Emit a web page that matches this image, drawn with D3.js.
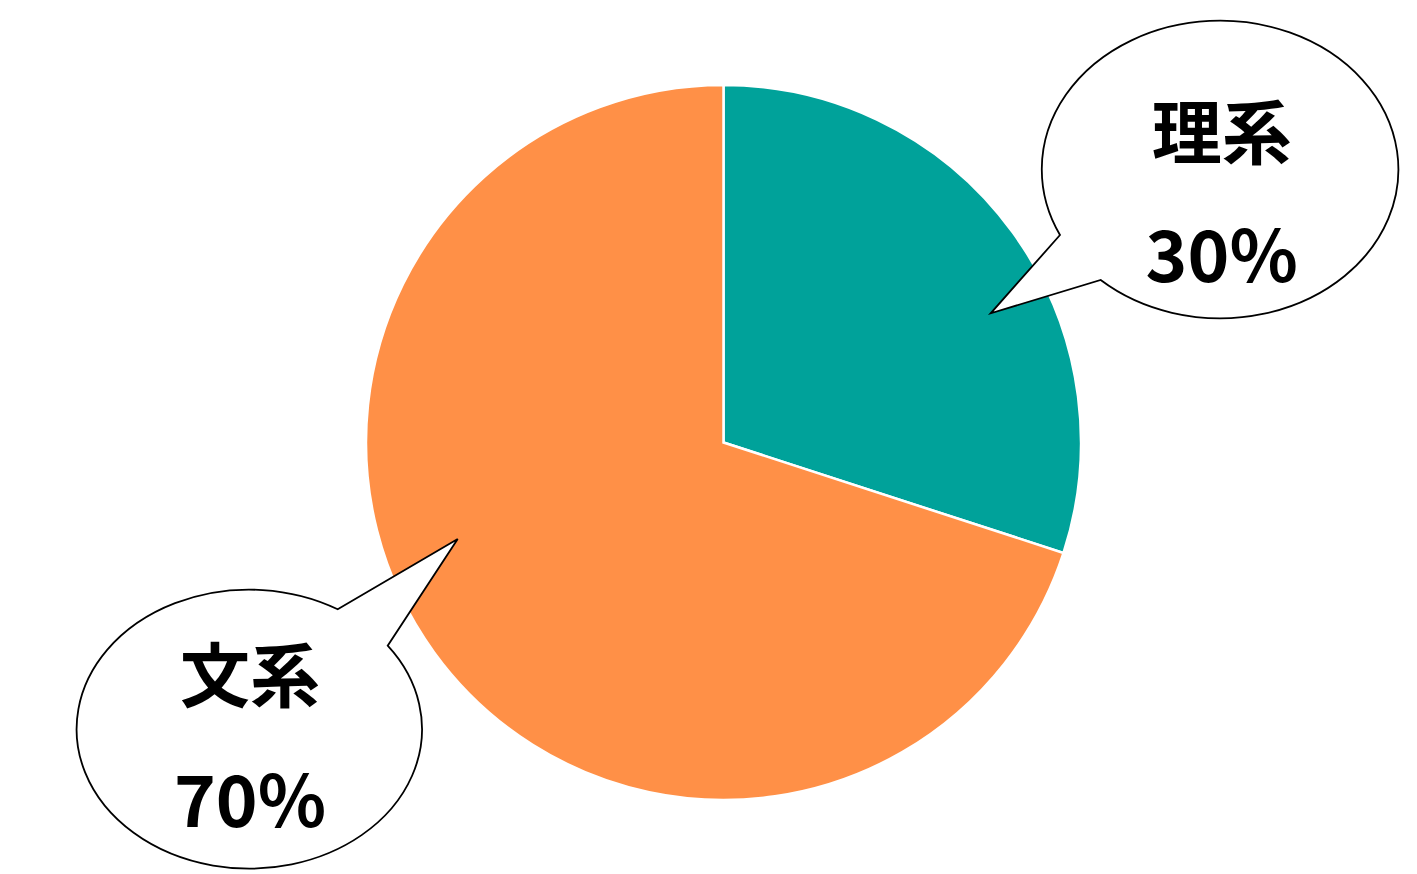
<!DOCTYPE html>
<html>
<head>
<meta charset="utf-8">
<script src="https://cdn.jsdelivr.net/npm/d3@7"></script>
<style>
  html, body { margin: 0; padding: 0; background: #fff; }
  svg { display: block; }
  text { font-family: "Noto Sans CJK JP", "Noto Sans", sans-serif; font-weight: 700; fill: #000; }
</style>
</head>
<body>
<svg id="chart" width="1417" height="874"></svg>
<script>
const categories = ['理系', '文系']
const values = [30, 70]
const colors = ['#00A29A', '#FF9047']

const width = 1417
const height = 874
const cx = 723.5
const cy = 442.5
const radius = 357.5

// callout bubbles: ellipse centre/radii, pointer tip, the two points where the pointer meets the ellipse,
// and which way round the ellipse to go from b back to a
const callouts = [
  { cx: 1221.7, cy: 170.5, rx: 178.3, ry: 148.8, tip: [990.7, 313.3], a: [1060, 235], b: [1100.7, 280], sweep: 0, labelY: 128, pctY: 251 },
  { cx: 250, cy: 730, rx: 172.7, ry: 139.5, tip: [457.7, 539], a: [337.7, 609.3], b: [387.7, 645.7], sweep: 1, labelY: 671, pctY: 796 },
]

const svg = d3.select('#chart')

const pie = d3.pie().sort(null).value((d) => d.value)
const arc = d3.arc().innerRadius(0).outerRadius(radius)
const data = categories.map((c, i) => ({ name: c, value: values[i], color: colors[i] }))

const g = svg.append('g').attr('transform', `translate(${cx}, ${cy})`)
g.selectAll('path')
  .data(pie(data))
  .enter()
  .append('path')
  .attr('d', arc)
  .attr('fill', (d) => d.data.color)
  .attr('stroke', '#fff')
  .attr('stroke-width', 2.5)
  .attr('stroke-linejoin', 'miter')

const total = d3.sum(values)

callouts.forEach((c, i) => {
  const path = d3.path()
  path.moveTo(c.a[0], c.a[1])
  path.lineTo(c.tip[0], c.tip[1])
  path.lineTo(c.b[0], c.b[1])
  // long way round the ellipse back to a
  const d = path.toString() + ` A ${c.rx} ${c.ry} 0 1 ${c.sweep} ${c.a[0]} ${c.a[1]} Z`
  svg.append('path')
    .attr('d', d)
    .attr('fill', '#fff')
    .attr('stroke', '#000')
    .attr('stroke-width', 1.8)
    .attr('stroke-linejoin', 'miter')

  svg.append('text')
    .attr('x', c.cx)
    .attr('y', c.labelY)
    .attr('text-anchor', 'middle')
    .attr('dominant-baseline', 'central')
    .attr('font-size', 70)
    .text(categories[i])

  svg.append('text')
    .attr('x', c.cx)
    .attr('y', c.pctY)
    .attr('text-anchor', 'middle')
    .attr('dominant-baseline', 'central')
    .attr('font-size', 71)
    .text(Math.round(values[i] / total * 100) + '%')
})
</script>
</body>
</html>
